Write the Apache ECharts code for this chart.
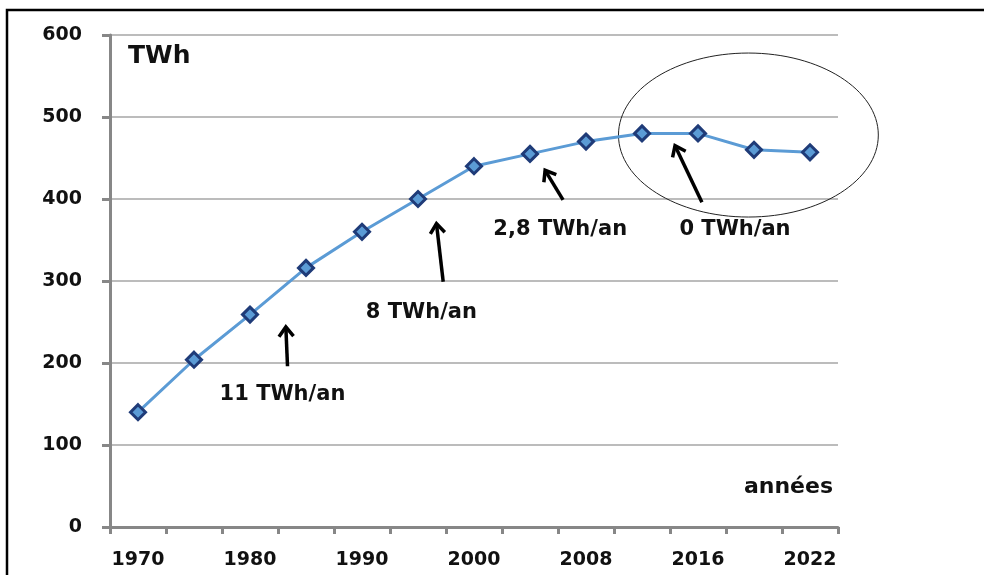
<!DOCTYPE html>
<html>
<head>
<meta charset="utf-8">
<script src="https://cdn.jsdelivr.net/npm/echarts@6/dist/echarts.min.js"></script>
<style>
  html, body { margin: 0; padding: 0; background: #fff; }
  #chart { width: 984px; height: 575px; }
</style>
</head>
<body>
<div id="chart"></div>
<script>
// years on the x axis (only every other one is labelled)
var years = ['1970', '1975', '1980', '1985', '1990', '1995', '2000', '2004', '2008', '2012', '2016', '2019', '2022'];
// consumption, TWh
var consumption = [140, 204, 259, 316, 360, 400, 440, 455, 470, 480, 480, 460, 457];
var yTicks = { min: 0, max: 600, step: 100 };

// annotations, in (category index, TWh)
var noteLabels = ['11 TWh/an', '8 TWh/an', '2,8 TWh/an', '0 TWh/an'];
var noteX = [2.58, 5.06, 7.54, 10.66];
var noteY = [161, 262, 363, 363];
// arrows: tail x, tail y, head x, head y
var arrowTails = [[2.67, 196], [5.45, 299], [7.59, 399], [10.07, 396]];
var arrowHeads = [[2.64, 244], [5.33, 370], [7.27, 435], [9.59, 465]];
// ellipse around the plateau: centre x, centre y, radius x, radius y
var plateau = [10.9, 478, 2.32, 100];

var font = "'DejaVu Sans', Verdana, sans-serif";

var notesData = noteLabels.map(function (t, i) { return [noteX[i], noteY[i], t]; });
var arrowsData = arrowTails.map(function (t, i) { return [t[0], t[1], arrowHeads[i][0], arrowHeads[i][1]]; });

var chart = echarts.init(document.getElementById('chart'));

var option = {
    backgroundColor: '#fff',
    animation: false,
    grid: { left: 110, right: 146, top: 35, bottom: 48 },
    graphic: [
        {
            type: 'rect', silent: true,
            shape: { x: 7, y: 10, width: 1000, height: 600 },
            style: { fill: 'none', stroke: '#000', lineWidth: 2.5 }
        },
        {
            type: 'text', left: 128, top: 44,
            style: { text: 'TWh', font: 'bold 25px ' + font, fill: '#111' }
        },
        {
            type: 'text', right: 151, top: 476,
            style: { text: 'années', font: 'bold 22px ' + font, fill: '#111' }
        }
    ],
    xAxis: [
        {
            type: 'category',
            data: years,
            boundaryGap: true,
            axisLine: { lineStyle: { color: '#878787', width: 3 } },
            axisTick: { show: true, interval: 0, length: 7, lineStyle: { color: '#878787', width: 3 } },
            axisLabel: { interval: 1, margin: 24, color: '#111', fontWeight: 'bold', fontSize: 19, fontFamily: font },
            splitLine: { show: false }
        },
        {
            type: 'value', min: -0.5, max: 12.5, show: false
        }
    ],
    yAxis: {
        type: 'value',
        min: yTicks.min, max: yTicks.max, interval: yTicks.step,
        axisLine: { show: true, onZero: false, lineStyle: { color: '#878787', width: 3 } },
        axisTick: { show: true, length: 8, lineStyle: { color: '#878787', width: 3 } },
        axisLabel: { margin: 28, color: '#111', fontWeight: 'bold', fontSize: 19, fontFamily: font },
        splitLine: { lineStyle: { color: '#a6a6a6', width: 1.5 } }
    },
    series: [
        {
            type: 'line',
            data: consumption,
            symbol: 'diamond',
            symbolSize: 15,
            lineStyle: { color: '#5b9bd5', width: 3 },
            itemStyle: { color: '#5b9bd5', borderColor: '#1f3b78', borderWidth: 3 },
            z: 5
        },
        {
            type: 'custom',
            xAxisIndex: 1,
            data: [plateau],
            renderItem: function (params, api) {
                var c = api.coord([api.value(0), api.value(1)]);
                var rx = api.size([api.value(2), 0])[0];
                var ry = api.size([0, api.value(3)])[1];
                return {
                    type: 'ellipse',
                    shape: { cx: c[0], cy: c[1], rx: rx, ry: ry },
                    style: { fill: 'none', stroke: '#222', lineWidth: 1 }
                };
            },
            z: 3
        },
        {
            type: 'custom',
            xAxisIndex: 1,
            data: arrowsData,
            renderItem: function (params, api) {
                var t = api.coord([api.value(0), api.value(1)]);
                var h = api.coord([api.value(2), api.value(3)]);
                var a = Math.atan2(h[1] - t[1], h[0] - t[0]);
                var len = 12, spread = 0.65;
                var w1 = [h[0] - len * Math.cos(a - spread), h[1] - len * Math.sin(a - spread)];
                var w2 = [h[0] - len * Math.cos(a + spread), h[1] - len * Math.sin(a + spread)];
                var st = { fill: 'none', stroke: '#000', lineWidth: 3.5 };
                return {
                    type: 'group',
                    children: [
                        { type: 'line', shape: { x1: t[0], y1: t[1], x2: h[0], y2: h[1] }, style: st },
                        { type: 'polyline', shape: { points: [w1, h, w2] }, style: st }
                    ]
                };
            },
            z: 4
        },
        {
            type: 'custom',
            xAxisIndex: 1,
            data: notesData,
            renderItem: function (params, api) {
                var p = api.coord([api.value(0), api.value(1)]);
                return {
                    type: 'text',
                    x: p[0], y: p[1],
                    style: {
                        text: notesData[params.dataIndex][2],
                        font: 'bold 21px ' + font,
                        fill: '#111',
                        align: 'center',
                        verticalAlign: 'middle'
                    }
                };
            },
            z: 4
        }
    ]
};

chart.setOption(option);
</script>
</body>
</html>
